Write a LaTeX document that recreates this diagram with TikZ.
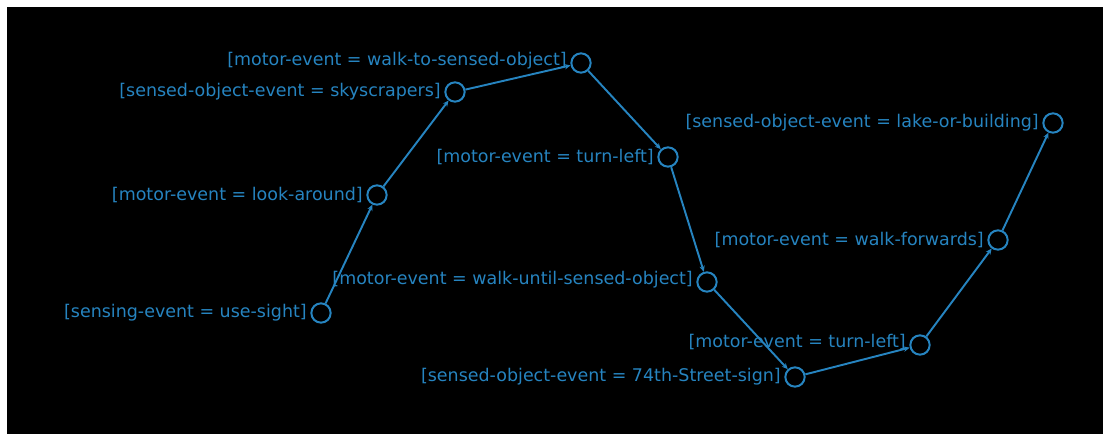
\documentclass[tikz,border=0pt]{standalone}
\usepackage{fontspec}
\setmainfont{DejaVu Sans}
\usetikzlibrary{arrows.meta}
\definecolor{evblue}{RGB}{38,132,192}
\begin{document}
\begin{tikzpicture}[x=0.75pt,y=-0.75pt,
  ev/.style={circle,draw=evblue,line width=1.5pt,minimum size=14.5pt,inner sep=0pt},
  lab/.style={anchor=east,text=evblue,font=\fontsize{13.1}{15}\selectfont,inner sep=0pt},
  conn/.style={draw=evblue,line width=1.45pt,-{Stealth[length=4.5pt,width=4pt]}}]
\fill[white] (0,0) rectangle (1103,434);
\fill[black] (7,7) rectangle (1103,434);
\useasboundingbox (0,0) rectangle (1103,434);
\node[ev] (n1) at (321,313) {};
\node[ev] (n2) at (377,195) {};
\node[ev] (n3) at (455,92) {};
\node[ev] (n4) at (581,63) {};
\node[ev] (n5) at (668,157) {};
\node[ev] (n6) at (707,282) {};
\node[ev] (n7) at (795,377) {};
\node[ev] (n8) at (920,345) {};
\node[ev] (n9) at (998,240) {};
\node[ev] (n10) at (1053,123) {};
\node[lab] (l1) at ([xshift=-2.5pt]n1.west) {[sensing-event = use-sight]};
\node[lab] (l2) at ([xshift=-2.5pt]n2.west) {[motor-event = look-around]};
\node[lab] (l3) at ([xshift=-2.5pt]n3.west) {[sensed-object-event = skyscrapers]};
\node[lab] (l4) at ([xshift=-2.5pt,yshift=2pt]n4.west) {[motor-event = walk-to-sensed-object]};
\node[lab] (l5) at ([xshift=-2.5pt]n5.west) {[motor-event = turn-left]};
\node[lab] (l6) at ([xshift=-2.5pt,yshift=2pt]n6.west) {[motor-event = walk-until-sensed-object]};
\node[lab] (l7) at ([xshift=-2.5pt]n7.west) {[sensed-object-event = 74th-Street-sign]};
\node[lab] (l8) at ([xshift=-2.5pt,yshift=2pt]n8.west) {[motor-event = turn-left]};
\node[lab] (l9) at ([xshift=-2.5pt]n9.west) {[motor-event = walk-forwards]};
\node[lab] (l10) at ([xshift=-2.5pt]n10.west) {[sensed-object-event = lake-or-building]};
\draw[conn] (n1) -- (n2);
\draw[conn] (n2) -- (n3);
\draw[conn] (n3) -- (n4);
\draw[conn] (n4) -- (n5);
\draw[conn] (n5) -- (n6);
\draw[conn] (n6) -- (n7);
\draw[conn] (n7) -- (n8);
\draw[conn] (n8) -- (n9);
\draw[conn] (n9) -- (n10);
\end{tikzpicture}
\end{document}
